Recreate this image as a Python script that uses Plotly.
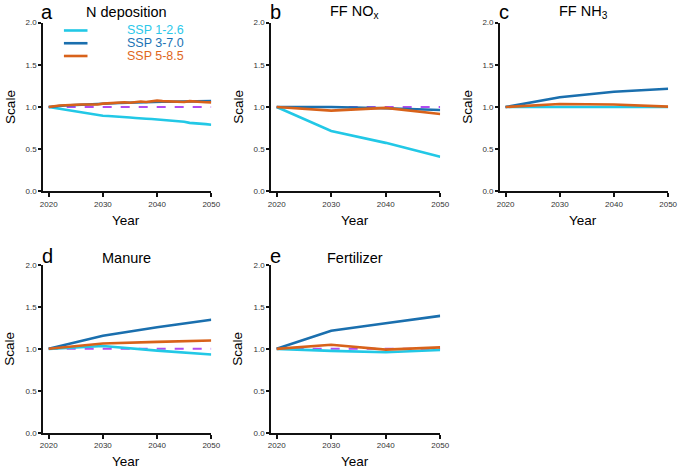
import plotly.graph_objects as go

# ---------------- data ----------------
years_annual = list(range(2020, 2051))
years_decadal = [2020, 2030, 2040, 2050]

ndep_ssp126 = [1.0, 0.99, 0.975, 0.962, 0.952, 0.945, 0.937, 0.93, 0.916, 0.903, 0.897,
               0.894, 0.891, 0.888, 0.881, 0.876, 0.870, 0.862, 0.861, 0.858, 0.853,
               0.849, 0.842, 0.837, 0.832, 0.826, 0.812, 0.810, 0.805, 0.797, 0.790]
ndep_ssp370 = [1.0, 1.008, 1.014, 1.018, 1.02, 1.024, 1.027, 1.03, 1.033, 1.034, 1.038,
               1.042, 1.045, 1.047, 1.05, 1.05, 1.054, 1.057, 1.057, 1.06, 1.062,
               1.062, 1.062, 1.064, 1.062, 1.062, 1.064, 1.066, 1.066, 1.068, 1.07]
ndep_ssp585 = [1.0, 1.01, 1.018, 1.02, 1.02, 1.026, 1.03, 1.03, 1.036, 1.03, 1.04,
               1.046, 1.05, 1.05, 1.056, 1.05, 1.06, 1.066, 1.06, 1.066, 1.075,
               1.07, 1.066, 1.07, 1.064, 1.06, 1.07, 1.064, 1.06, 1.056, 1.055]

nox_ssp126 = [1.0, 0.715, 0.575, 0.41]
nox_ssp370 = [1.0, 1.0, 0.985, 0.965]
nox_ssp585 = [1.0, 0.957, 0.99, 0.918]

nh3_ssp126 = [1.0, 1.0, 1.0, 1.0]
nh3_ssp370 = [1.0, 1.115, 1.18, 1.217]
nh3_ssp585 = [1.0, 1.035, 1.03, 1.005]

man_ssp126 = [1.0, 1.033, 0.979, 0.932]
man_ssp370 = [1.0, 1.157, 1.257, 1.346]
man_ssp585 = [1.0, 1.064, 1.083, 1.10]

fer_ssp126 = [1.0, 0.975, 0.96, 0.986]
fer_ssp370 = [1.0, 1.215, 1.304, 1.393]
fer_ssp585 = [1.0, 1.048, 0.99, 1.017]

scenario_names = ["SSP 1-2.6", "SSP 3-7.0", "SSP 5-8.5"]
panel_letters = ["a", "b", "c", "d", "e"]
panel_titles = ["N deposition", "FF NO<sub>x</sub>", "FF NH<sub>3</sub>", "Manure", "Fertilizer"]
x_ticks = [2020, 2030, 2040, 2050]
y_ticks = [0.0, 0.5, 1.0, 1.5, 2.0]
baseline = [1.0, 1.0]
baseline_years = [2020, 2050]

# ---------------- style ----------------
W, H = 686, 474
COLORS = ["#22c8e6", "#1a6fae", "#d8621a"]
TEXT_COLORS = ["#2cc8ea", "#1a72b4", "#e0671c"]
PURPLE = "#b04cf0"
FONT = "Liberation Sans, Arial, Helvetica, sans-serif"


def px(xr):
    return xr / W


def py(yr):
    return 1 - yr / H


panels = [
    (years_annual, [ndep_ssp126, ndep_ssp370, ndep_ssp585]),
    (years_decadal, [nox_ssp126, nox_ssp370, nox_ssp585]),
    (years_decadal, [nh3_ssp126, nh3_ssp370, nh3_ssp585]),
    (years_decadal, [man_ssp126, man_ssp370, man_ssp585]),
    (years_decadal, [fer_ssp126, fer_ssp370, fer_ssp585]),
]

# pixel boxes: (left, right, top, bottom)
boxes = [
    (41, 212, 19, 191),
    (273, 445, 19, 191),
    (506, 677, 19, 191),
    (41, 212, 266, 437),
    (273, 445, 266, 437),
]
# vertical centre of letter / title text (pixels)
letter_y = [8.5, 8.5, 8.5, 256.5, 256.5]
title_y = [8.0, 8.0, 8.0, 258.5, 258.5]

fig = go.Figure()
layout = dict(
    width=W, height=H,
    margin=dict(l=0, r=0, t=0, b=0),
    paper_bgcolor="white", plot_bgcolor="white",
    showlegend=False,
    font=dict(family=FONT, color="#222"),
)
annotations = []
shapes = []

for i, ((xs, series), (l, r, t, b)) in enumerate(zip(panels, boxes)):
    n = "" if i == 0 else str(i + 1)
    xa, ya = "x" + n, "y" + n
    fig.add_trace(go.Scatter(x=baseline_years, y=baseline, mode="lines",
                             line=dict(color=PURPLE, width=2, dash="dash"),
                             xaxis=xa, yaxis=ya, hoverinfo="skip"))
    for k in range(3):
        fig.add_trace(go.Scatter(x=xs, y=series[k], mode="lines",
                                 line=dict(color=COLORS[k], width=2.6),
                                 name=scenario_names[k],
                                 xaxis=xa, yaxis=ya))
    layout["xaxis" + n] = dict(
        domain=[px(l), px(r)], anchor=ya, range=[2019, 2050],
        tickvals=x_ticks, ticks="outside", ticklen=4, tickwidth=1.5,
        tickcolor="#111", showline=True, linecolor="#111", linewidth=2,
        showgrid=False, zeroline=False,
        tickfont=dict(size=8, color="#333", family=FONT),
    )
    layout["yaxis" + n] = dict(
        domain=[py(b), py(t)], anchor=xa, range=[0, 2],
        tickvals=y_ticks, tickformat=".1f", ticks="outside", ticklen=3,
        tickwidth=1.5, tickcolor="#111", showline=True, linecolor="#111",
        linewidth=2, showgrid=False, zeroline=False,
        tickfont=dict(size=8, color="#333", family=FONT),
    )
    annotations.append(dict(text=panel_letters[i], xref="paper", yref="paper",
                            x=px(l + 4), y=py(letter_y[i]), xanchor="center", yanchor="middle",
                            showarrow=False, font=dict(size=20, color="#000", family=FONT)))
    annotations.append(dict(text=panel_titles[i], xref="paper", yref="paper",
                            x=px((l + r) / 2 - 1), y=py(title_y[i]), xanchor="center", yanchor="middle",
                            showarrow=False, font=dict(size=14.5, color="#000", family=FONT)))
    annotations.append(dict(text="Year", xref="paper", yref="paper",
                            x=px((l + r) / 2 - 1), y=py(b + 29.5), xanchor="center", yanchor="middle",
                            showarrow=False, font=dict(size=13.5, color="#000", family=FONT)))
    annotations.append(dict(text="Scale", xref="paper", yref="paper",
                            x=px(l - 34), y=py((t + b) / 2), xanchor="center", yanchor="middle",
                            textangle=-90, showarrow=False,
                            font=dict(size=13.5, color="#000", family=FONT)))

# legend (panel a)
leg_y = [27, 40, 53]
for k in range(3):
    shapes.append(dict(type="line", xref="paper", yref="paper",
                       x0=px(62), x1=px(86), y0=py(leg_y[k]), y1=py(leg_y[k]),
                       line=dict(color=COLORS[k], width=2.6)))
    annotations.append(dict(text=scenario_names[k], xref="paper", yref="paper",
                            x=px(186), y=py(leg_y[k]), xanchor="right", yanchor="middle",
                            showarrow=False,
                            font=dict(size=12.5, color=TEXT_COLORS[k], family=FONT)))

layout["annotations"] = annotations
layout["shapes"] = shapes
fig.update_layout(**layout)
fig.write_html("out.html", config={"displayModeBar": False},
               post_script="document.body.style.margin='0';"
                           "document.body.style.overflow='hidden';")
